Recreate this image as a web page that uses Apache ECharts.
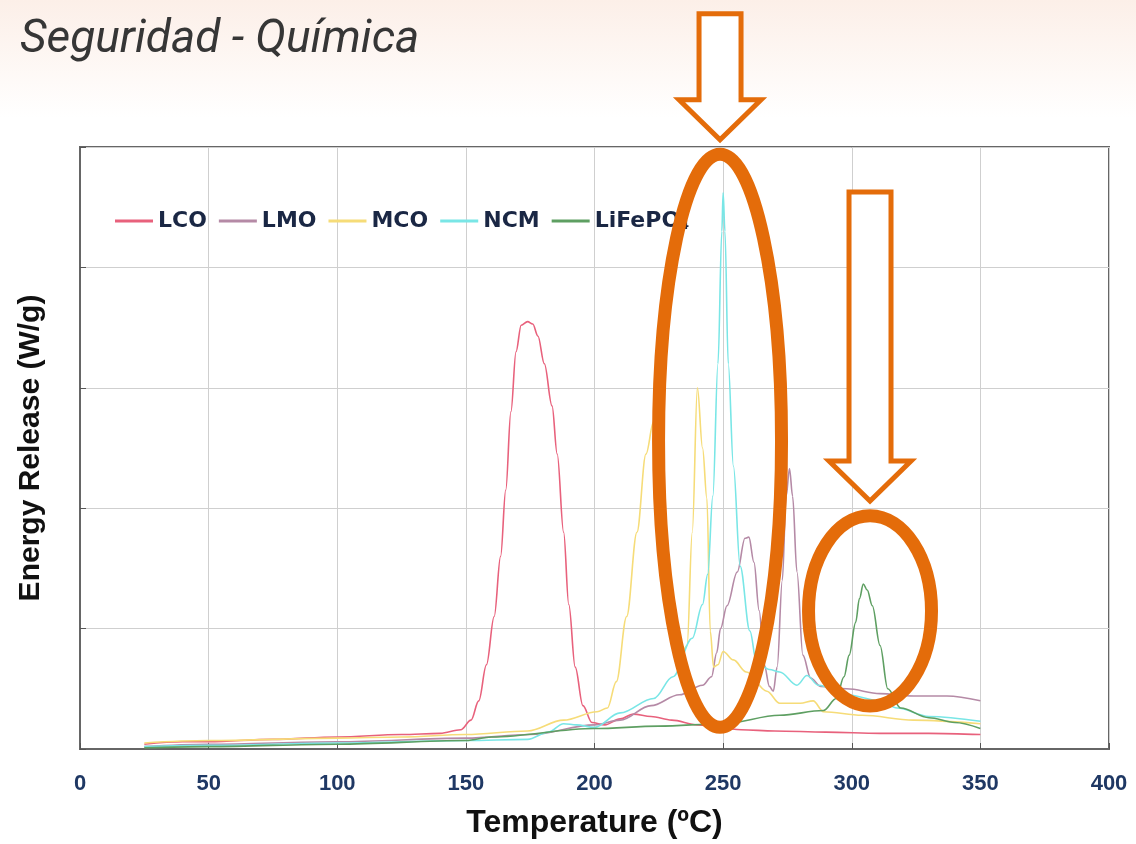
<!DOCTYPE html>
<html>
<head>
<meta charset="utf-8">
<script src="https://cdn.jsdelivr.net/npm/echarts@6/dist/echarts.min.js"></script>
<style>
  html, body { margin: 0; padding: 0; background: #fff; }
  #main { width: 1136px; height: 844px; }
</style>
</head>
<body>
<div id="main"></div>
<script>
// temperature (ºC), energy release (W/g)
const lco = [[25,0.04],[40,0.06],[50,0.06],[75,0.08],[100,0.1],[125,0.12],[140,0.13],[148,0.16],[152,0.24],[155,0.4],
  [158,0.7],[161,1.1],[163.5,1.6],[165.5,2.15],[167.5,2.8],[169.5,3.3],[171.5,3.52],[174,3.55],[176,3.53],[178,3.43],
  [180.5,3.2],[183.5,2.85],[185.5,2.45],[188,1.8],[190,1.2],[192.5,0.68],[195.5,0.36],[199,0.22],[204,0.2],[210,0.25],
  [215,0.29],[222,0.27],[230,0.24],[240,0.2],[257,0.16],[270,0.15],[290,0.14],[311,0.13],[330,0.13],[350,0.12]];
const lmo = [[25,0.02],[50,0.04],[100,0.06],[150,0.09],[175,0.12],[200,0.2],[210,0.24],[222,0.36],[233,0.45],[242,0.53],
  [245.5,0.6],[247.5,0.8],[249,1.0],[251.5,1.19],[255.5,1.47],[258.5,1.75],[260,1.76],[262,1.55],[264,1.15],[266,0.7],
  [268,0.52],[269.5,0.48],[271,0.68],[273,1.4],[274.5,2.1],[275.8,2.33],[277,2.1],[278.7,1.47],[281,0.78],[284,0.59],
  [288,0.52],[298,0.5],[311,0.46],[324,0.44],[337,0.44],[350,0.4]];
const mco = [[25,0.05],[50,0.07],[100,0.09],[125,0.1],[150,0.12],[174,0.15],[188,0.24],[201,0.31],[205,0.34],[208.5,0.56],
  [212.5,1.1],[216.5,1.8],[220,2.45],[223,2.72],[225,2.6],[228,1.7],[231,1.0],[234,0.8],[236,0.86],[238,1.8],
  [240,3.0],[242,2.5],[243.7,2.08],[245,0.98],[246.3,0.68],[248,0.7],[250,0.81],[254,0.74],[259,0.64],[267,0.48],
  [272,0.38],[280,0.38],[285,0.4],[289,0.31],[304,0.28],[324,0.24],[350,0.21]];
const ncm = [[25,0.02],[50,0.03],[100,0.05],[150,0.07],[174,0.08],[182,0.14],[188,0.21],[193,0.2],[200,0.18],[210,0.3],
  [223,0.42],[230.5,0.6],[238,0.92],[242,1.2],[244,1.45],[246,2.1],[248,3.2],[249.5,4.3],[250,4.62],[250.7,4.3],
  [252,3.2],[254,2.35],[256.6,1.52],[260.4,0.98],[263,0.72],[268,0.66],[272,0.64],[278.7,0.53],[282.6,0.61],[287,0.53],
  [298,0.45],[311,0.4],[317.6,0.34],[330,0.27],[350,0.23]];
const lfp = [[25,0.01],[50,0.02],[100,0.04],[150,0.07],[160,0.1],[200,0.17],[225,0.19],[250,0.21],[272,0.28],[289,0.32],
  [294,0.42],[297,0.6],[299,0.78],[301.5,1.05],[303,1.25],[304.5,1.37],[306,1.32],[308,1.19],[311,0.86],[314,0.5],
  [319,0.34],[330,0.26],[340,0.22],[350,0.17]];

const seriesNames = ['LCO', 'LMO', 'MCO', 'NCM', 'LiFePO4'];
const seriesData = [lco, lmo, mco, ncm, lfp];
const colors = ['#e8617c', '#b58aa6', '#f6dc78', '#79e6e6', '#5e9f62'];

// annotations: ellipse centre / radii and arrow tips in data units
const ellipses = [
  {c: [248.8, 2.56], r: [23.9, 2.38]},
  {c: [307.1, 1.147], r: [23.9, 0.79]}
];
const arrows = [
  {tip: [248.8, 5.06], shaft: 86},
  {tip: [307.1, 2.06], shaft: 269}
];

const chart = echarts.init(document.getElementById('main'));
const orange = '#e46c0a';

let option = {
  animation: false,
  backgroundColor: {
    type: 'linear', x: 0, y: 0, x2: 0, y2: 1,
    colorStops: [
      {offset: 0, color: '#fcefe8'},
      {offset: 0.14, color: '#ffffff'},
      {offset: 1, color: '#ffffff'}
    ]
  },
  title: {
    text: 'Seguridad - Química',
    left: 15, top: 12,
    textStyle: {fontFamily: 'Roboto', fontStyle: 'italic', fontWeight: 'normal', fontSize: 46, color: '#363636'}
  },
  color: colors,
  legend: {
    data: seriesNames,
    left: 110, top: 205,
    icon: 'rect',
    itemWidth: 38, itemHeight: 3,
    itemGap: 12,
    formatter: function (name) {
      if (name === 'LiFePO4') {
        return '{t|LiFePO}{s|4}';
      }
      return '{t|' + name + '}';
    },
    textStyle: {
      rich: {
        t: {fontFamily: 'DejaVu Sans', fontWeight: 'bold', fontSize: 22, color: '#1a2744'},
        s: {fontFamily: 'DejaVu Sans', fontWeight: 'bold', fontSize: 13, color: '#1a2744', verticalAlign: 'bottom', padding: [10, 0, 0, 0]}
      }
    }
  },
  grid: {
    left: 80, right: 27, top: 147, bottom: 93,
    show: true, backgroundColor: '#fff', borderColor: '#666', borderWidth: 2
  },
  xAxis: {
    type: 'value', min: 0, max: 400, interval: 50,
    name: 'Temperature (ºC)', nameLocation: 'middle', nameGap: 58,
    nameTextStyle: {fontFamily: 'Liberation Sans', fontWeight: 'bold', fontSize: 32, color: '#111'},
    axisLine: {lineStyle: {color: '#666', width: 2}},
    axisTick: {inside: true, length: 6, lineStyle: {color: '#555'}},
    axisLabel: {fontFamily: 'Liberation Sans', fontWeight: 'bold', fontSize: 22, color: '#1f3864', margin: 24},
    splitLine: {lineStyle: {color: '#cfcfcf'}}
  },
  yAxis: {
    type: 'value', min: 0, max: 5, interval: 1,
    name: 'Energy Release (W/g)', nameLocation: 'middle', nameGap: 34, nameRotate: 90,
    nameTextStyle: {fontFamily: 'Liberation Sans', fontWeight: 'bold', fontSize: 30, color: '#111'},
    axisLine: {lineStyle: {color: '#666', width: 2}},
    axisTick: {inside: true, length: 6, lineStyle: {color: '#555'}},
    axisLabel: {show: false},
    splitLine: {lineStyle: {color: '#cfcfcf'}}
  },
  series: seriesNames.map(function (name, i) {
    return {
      name: name,
      type: 'line',
      data: seriesData[i],
      symbol: 'none',
      smooth: 0.35,
      smoothMonotone: 'x',
      lineStyle: {width: 1.6, color: colors[i]},
      itemStyle: {color: colors[i]},
      z: 2
    };
  })
};
chart.setOption(option);

// orange callouts, placed through the axes
function toPx(p) {
  return chart.convertToPixel({gridIndex: 0}, p);
}
const graphics = [];
ellipses.forEach(function (e) {
  const c = toPx(e.c);
  const edge = toPx([e.c[0] + e.r[0], e.c[1] + e.r[1]]);
  graphics.push({
    type: 'ellipse',
    shape: {cx: c[0], cy: c[1], rx: edge[0] - c[0], ry: c[1] - edge[1]},
    style: {fill: null, stroke: orange, lineWidth: 13},
    z: 100
  });
});
arrows.forEach(function (a) {
  const t = toPx(a.tip);
  const head = 40, hw = 41, sw = 21;
  const pts = [
    [-sw, -head - a.shaft], [sw, -head - a.shaft], [sw, -head], [hw, -head],
    [0, 0], [-hw, -head], [-sw, -head]
  ].map(function (p) {
    return [t[0] + p[0], t[1] + p[1]];
  });
  graphics.push({
    type: 'polygon',
    shape: {points: pts},
    style: {fill: '#fff', stroke: orange, lineWidth: 5, lineJoin: 'miter'},
    z: 100
  });
});
chart.setOption({graphic: graphics});
</script>
</body>
</html>
